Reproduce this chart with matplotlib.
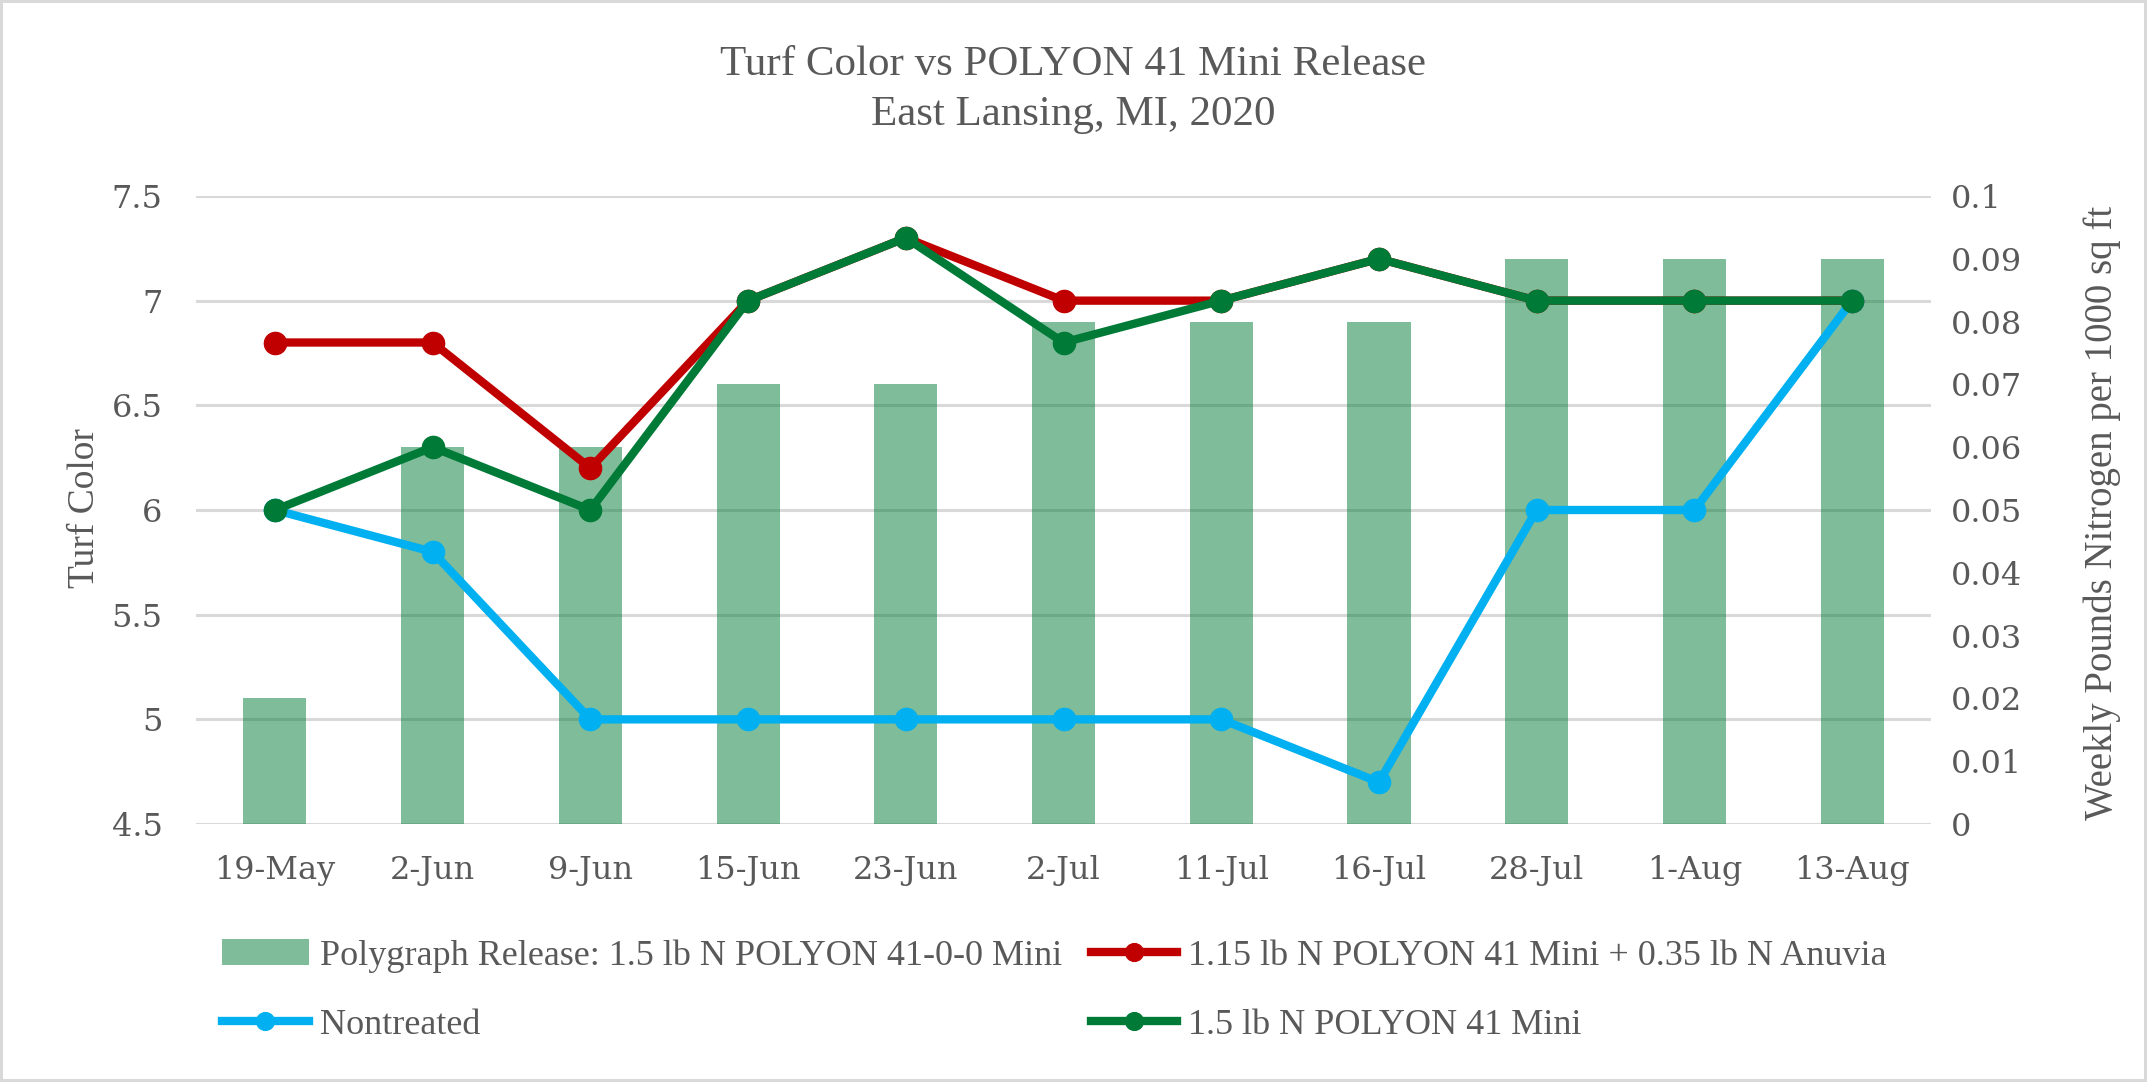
import matplotlib
matplotlib.use('Agg')
import matplotlib.pyplot as plt
import numpy as np

# data
dates = ['19-May', '2-Jun', '9-Jun', '15-Jun', '23-Jun', '2-Jul',
         '11-Jul', '16-Jul', '28-Jul', '1-Aug', '13-Aug']
weekly_n = [0.02, 0.06, 0.06, 0.07, 0.07, 0.08, 0.08, 0.08, 0.09, 0.09, 0.09]
anuvia = [6.8, 6.8, 6.2, 7.0, 7.3, 7.0, 7.0, 7.2, 7.0, 7.0, 7.0]
nontreated = [6.0, 5.8, 5.0, 5.0, 5.0, 5.0, 5.0, 4.7, 6.0, 6.0, 7.0]
polyon = [6.0, 6.3, 6.0, 7.0, 7.3, 6.8, 7.0, 7.2, 7.0, 7.0, 7.0]

left_ticks = [4.5, 5, 5.5, 6, 6.5, 7, 7.5]
left_ticklabels = ['4.5', '5', '5.5', '6', '6.5', '7', '7.5']
right_ticks = np.round(np.arange(0, 0.101, 0.01), 2)
right_ticklabels = ['0', '0.01', '0.02', '0.03', '0.04', '0.05', '0.06',
                    '0.07', '0.08', '0.09', '0.1']

grey = '#595959'
tick_font = 'DejaVu Serif'
text_font = 'Liberation Serif'

fig = plt.figure(figsize=(21.47, 10.82), dpi=100,
                 edgecolor='#D9D9D9', linewidth=3)
ax = fig.add_axes([0.0913, 0.2384, 0.8081, 0.5805])
x = np.arange(len(dates))

# gridlines on the bottom axis
ax.set_ylim(4.5, 7.5)
ax.set_yticks(left_ticks)
ax.set_yticklabels(left_ticklabels, fontsize=23, family=tick_font, color=grey)
ax.set_xticks(x)
ax.set_xticklabels(dates, fontsize=23, family=tick_font, color=grey)
ax.set_xlim(-0.5, len(dates) - 0.5)
ax.grid(axis='y', color='#D9D9D9', linewidth=2.2)
ax.set_axisbelow(True)
ax.tick_params(axis='y', length=0, pad=24)
ax.tick_params(axis='x', length=0, pad=22)
for s in ax.spines.values():
    s.set_visible(False)

# bars on the right axis
ax2 = ax.twinx()
bars = ax2.bar(x, weekly_n, width=0.4, color='#007A37', alpha=0.5,
               label='Polygraph Release: 1.5 lb N POLYON 41-0-0 Mini')
ax2.set_ylim(0, 0.1)
ax2.set_yticks(right_ticks)
ax2.set_yticklabels(right_ticklabels, fontsize=23, family=tick_font, color=grey)
ax2.tick_params(axis='y', length=0, pad=14)
for s in ax2.spines.values():
    s.set_visible(False)

# lines on top, sharing the left scale
ax3 = ax.twinx()
ax3.set_ylim(ax.get_ylim())
ax3.set_yticks([])
for s in ax3.spines.values():
    s.set_visible(False)
l1, = ax3.plot(x, anuvia, color='#C00000', lw=6, marker='o', ms=16,
               label='1.15 lb N POLYON 41 Mini + 0.35 lb N Anuvia')
l2, = ax3.plot(x, nontreated, color='#00B0F0', lw=6, marker='o', ms=16,
               label='Nontreated')
l3, = ax3.plot(x, polyon, color='#007A37', lw=6, marker='o', ms=16,
               label='1.5 lb N POLYON 41 Mini')

fig.text(0.5, 0.917, 'Turf Color vs POLYON 41 Mini Release\nEast Lansing, MI, 2020',
         ha='center', va='center', fontsize=31, family=text_font,
         color=grey, linespacing=1.4)
fig.text(0.0396, 0.53, 'Turf Color', rotation=90, ha='center', va='center',
         fontsize=27, family=text_font, color=grey)
fig.text(0.979, 0.526, 'Weekly Pounds Nitrogen per 1000 sq ft', rotation=90,
         ha='center', va='center', fontsize=28, family=text_font, color=grey)

leg = fig.legend([bars, l2, l1, l3],
                 [bars.get_label(), l2.get_label(), l1.get_label(), l3.get_label()],
                 ncol=2, loc='center left', bbox_to_anchor=(0.095, 0.0845),
                 frameon=False, prop={'family': text_font, 'size': 26},
                 handlelength=2.4, handletextpad=0.3, columnspacing=0.8,
                 labelspacing=1.0, markerscale=0.8, borderpad=0)
for t in leg.get_texts():
    t.set_color(grey)

fig.savefig('out.png', dpi=100)
